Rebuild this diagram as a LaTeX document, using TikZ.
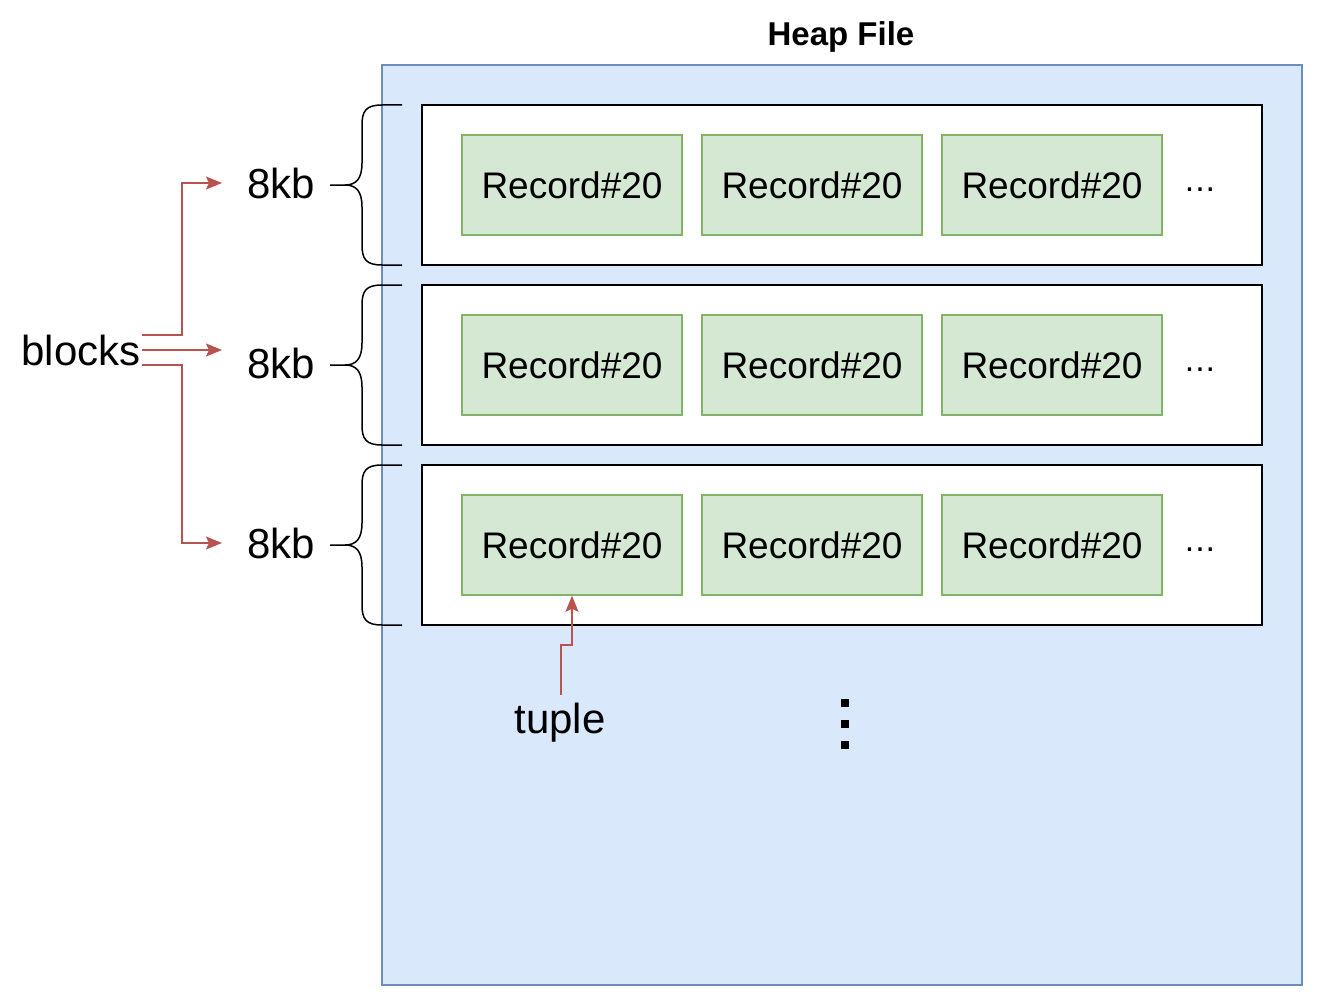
\documentclass[tikz,border=0pt]{standalone}
\usepackage{fontspec}
\setmainfont{Liberation Sans}
\usetikzlibrary{arrows.meta}
\begin{document}
\begin{tikzpicture}[x=1pt,y=-1pt,
  rec/.style={draw=recd,fill=recf,line width=1.5pt,minimum width=220pt,minimum height=100pt,inner sep=0pt,font=\fontsize{37}{40}\selectfont},
  blk/.style={draw=black,fill=white,line width=1.5pt,minimum width=840pt,minimum height=160pt,inner sep=0pt},
  lbl/.style={font=\fontsize{42}{46}\selectfont,inner sep=0pt},
  arr/.style={draw=redc,line width=1.5pt,-{Stealth[length=16pt,width=13pt,inset=3pt]}},
  br/.style={draw=black,line width=1.5pt}]
\definecolor{recd}{HTML}{82B366}\definecolor{recf}{HTML}{D5E8D4}
\definecolor{bd}{HTML}{6C8EBF}\definecolor{bf}{HTML}{DAE8FC}
\definecolor{redc}{HTML}{B85450}
\useasboundingbox (0,0) rectangle (1328,1006);
\node[draw=bd,fill=bf,line width=1.5pt,minimum width=920pt,minimum height=920pt,inner sep=0pt] (heap) at (842,525) {};
\node[font=\bfseries\fontsize{33}{38}\selectfont] (title) at (841,37) {Heap File};
\foreach \i/\y in {1/185,2/365,3/545}{
  \node[blk] (b\i) at (842,\y) {};
  \node[rec] (r\i a) at (572,\y) {Record\#20};
  \node[rec] (r\i b) at (812,\y) {Record\#20};
  \node[rec] (r\i c) at (1052,\y) {Record\#20};
  \node[font=\fontsize{34}{38}\selectfont] (d\i) at (1200,\y+5) {.\kern1pt.\kern1pt.};
  \node[lbl] (k\i) at (281,\y-2) {8kb};
  \draw[br] (402,\y-80) -- (382,\y-80) .. controls (366,\y-80) and (362,\y-74) .. (362,\y-60) -- (362,\y-22) .. controls (362,\y-6) and (356,\y) .. (345,\y) -- (330,\y);
  \draw[br] (402,\y+80) -- (382,\y+80) .. controls (366,\y+80) and (362,\y+74) .. (362,\y+60) -- (362,\y+22) .. controls (362,\y+6) and (356,\y) .. (345,\y);
}
\coordinate (e1) at (222,183);
\coordinate (e2) at (222,350);
\coordinate (e3) at (222,543);
\node[lbl] (blocks) at (81,350) {blocks};
\draw[arr] (142,335) -- (182,335) -- (182,183) -- (e1);
\draw[arr] (142,350) -- (e2);
\draw[arr] (142,365) -- (182,365) -- (182,543) -- (e3);
\node[lbl] (tuple) at (560,723) {tuple};
\draw[arr] (561,695) -- (561,645) -- (572,645) -- (r3a.south);
\foreach \yy in {703,724,745} \fill (841,\yy-4) rectangle (849,\yy+4);
\end{tikzpicture}
\end{document}
